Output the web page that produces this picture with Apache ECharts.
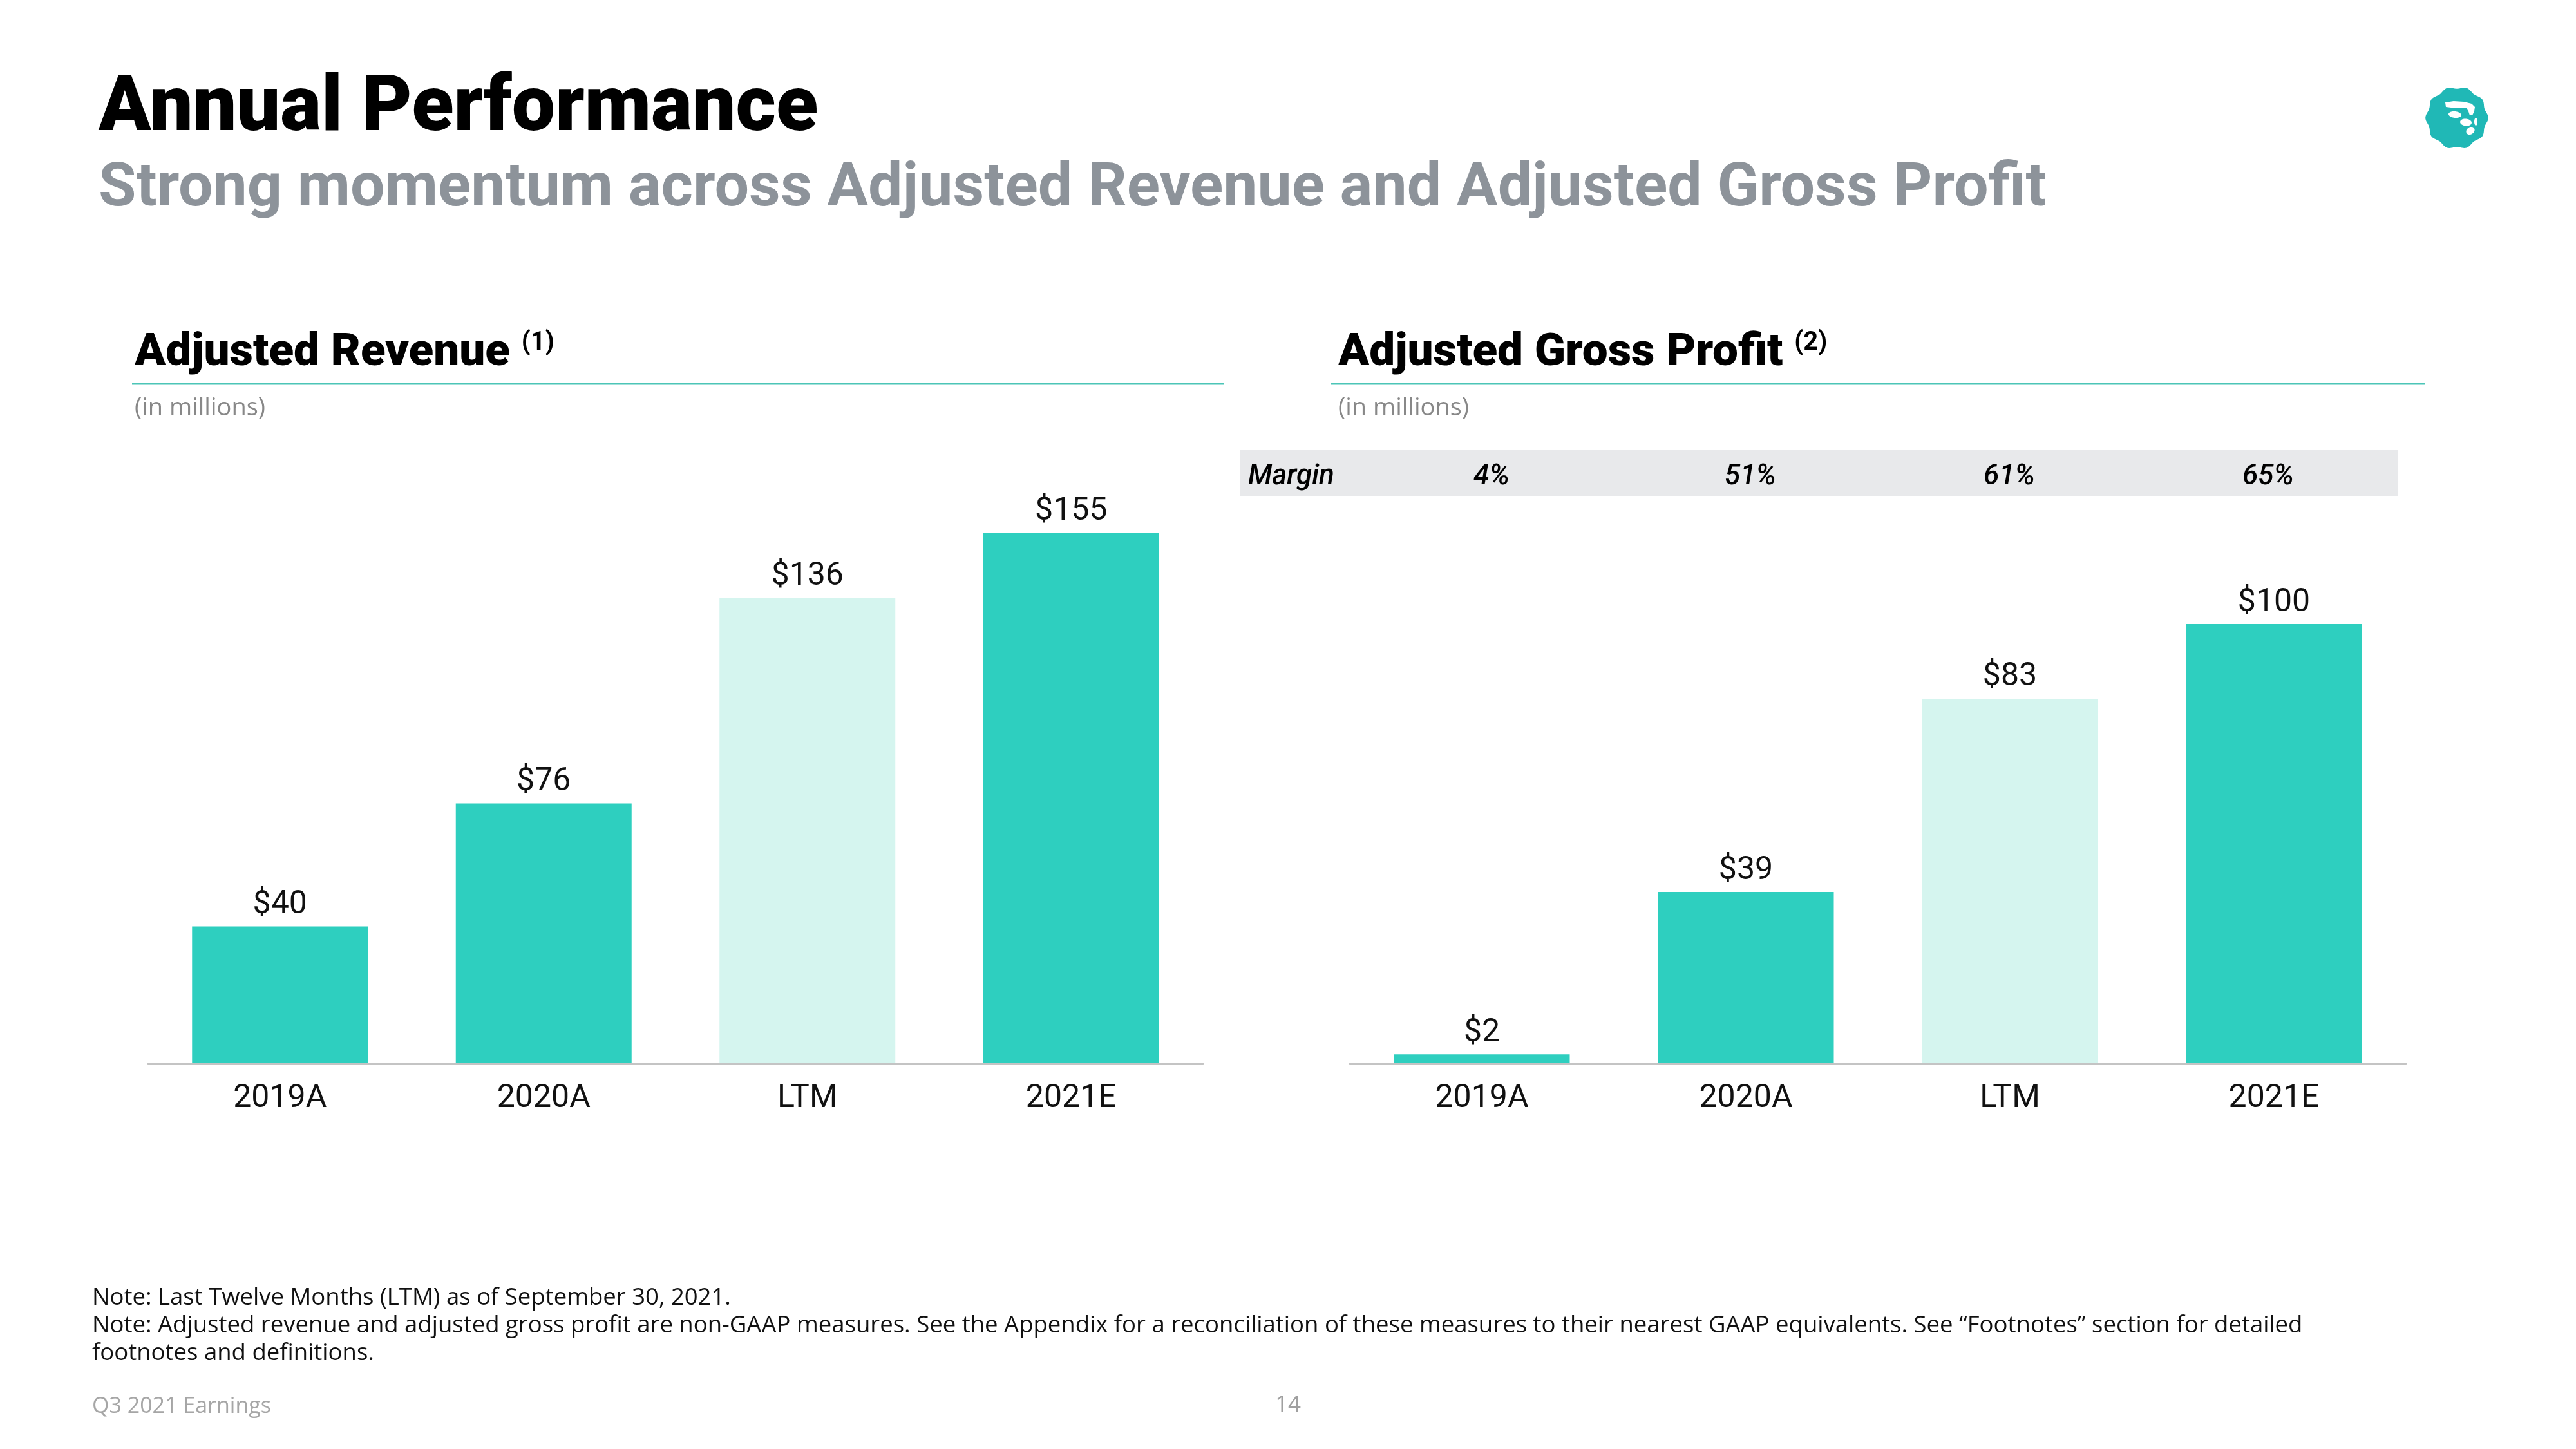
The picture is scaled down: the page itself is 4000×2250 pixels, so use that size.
<!DOCTYPE html>
<html>
<head>
<meta charset="utf-8">
<script src="https://cdn.jsdelivr.net/npm/echarts@6/dist/echarts.min.js"></script>
<style>
html,body{margin:0;padding:0;background:#fff;}
#c{width:4000px;height:2250px;}
</style>
</head>
<body>
<div id="c"></div>
<script>
const categories = ['2019A', '2020A', 'LTM', '2021E'];
const revenue = [40, 76, 136, 155];
const grossProfit = [2, 39, 83, 100];
const margins = ['4%', '51%', '61%', '65%'];
const lightCategory = 'LTM';

const TEAL = '#2ecfbf';
const LIGHT = '#d5f5ef';
const FONT = 'Roboto';
const BODY = 'Open Sans';

const chart = echarts.init(document.getElementById('c'), null, {renderer: 'canvas'});

function barSeries(data, idx) {
  return {
    type: 'bar',
    xAxisIndex: idx,
    yAxisIndex: idx,
    data: data,
    barWidth: 273,
    itemStyle: {
      color: function (p) { return p.name === lightCategory ? LIGHT : TEAL; }
    },
    label: {
      show: true,
      position: 'top',
      distance: 8,
      formatter: function (p) { return '$' + p.value; },
      fontFamily: FONT,
      fontSize: 50,
      color: '#111'
    },
    silent: true,
    animation: false
  };
}

function catAxis(idx) {
  return {
    type: 'category',
    gridIndex: idx,
    data: categories,
    axisLine: {show: true, lineStyle: {color: '#c4c4c4', width: 3}},
    axisTick: {show: false},
    axisLabel: {fontFamily: FONT, fontSize: 50, color: '#111', margin: 30}
  };
}

function valAxis(idx, max) {
  return {
    type: 'value',
    gridIndex: idx,
    min: 0,
    max: max,
    show: false,
    splitLine: {show: false}
  };
}

// logo outline (scalloped circle) as polygon points
function scallop(cx, cy, r, amp, n) {
  const pts = [];
  const steps = 180;
  for (let i = 0; i < steps; i++) {
    const t = i / steps * Math.PI * 2;
    const rr = r + amp * Math.cos(n * t);
    pts.push([cx + rr * Math.cos(t), cy + rr * Math.sin(t)]);
  }
  return pts;
}
function ellipsePts(cx, cy, rx, ry, rot) {
  const pts = [];
  const c = Math.cos(rot || 0), s = Math.sin(rot || 0);
  for (let i = 0; i < 48; i++) {
    const t = i / 48 * Math.PI * 2;
    const x = rx * Math.cos(t), y = ry * Math.sin(t);
    pts.push([cx + x * c - y * s, cy + x * s + y * c]);
  }
  return pts;
}

const headRich = {
  h: {fontFamily: FONT, fontWeight: 900, fontSize: 71, fill: '#000', lineHeight: 72},
  s: {fontFamily: FONT, fontWeight: 'bold', fontSize: 40, fill: '#000', verticalAlign: 'top', lineHeight: 42}
};

const graphics = [
  {type: 'text', x: 153, y: 172, style: {text: 'Annual Performance', fontFamily: FONT, fontWeight: 900, fontSize: 120, fill: '#000', verticalAlign: 'middle'}},
  {type: 'text', x: 153, y: 295, style: {text: 'Strong momentum across Adjusted Revenue and Adjusted Gross Profit', fontFamily: FONT, fontWeight: 'bold', fontSize: 95, fill: '#8d939a', verticalAlign: 'middle'}},
  // section headings
  {type: 'text', x: 209, y: 549, style: {text: '{h|Adjusted Revenue }{s|(1)}', verticalAlign: 'middle', rich: headRich}},
  {type: 'text', x: 2078, y: 549, style: {text: '{h|Adjusted Gross Profit }{s|(2)}', verticalAlign: 'middle', rich: headRich}},
  {type: 'line', shape: {x1: 205, y1: 596, x2: 1900, y2: 596}, style: {stroke: '#4cc5b7', lineWidth: 3}},
  {type: 'line', shape: {x1: 2067, y1: 596, x2: 3766, y2: 596}, style: {stroke: '#4cc5b7', lineWidth: 3}},
  {type: 'text', x: 209, y: 634, style: {text: '(in millions)', fontFamily: BODY, fontSize: 38, fill: '#888', verticalAlign: 'middle'}},
  {type: 'text', x: 2078, y: 634, style: {text: '(in millions)', fontFamily: BODY, fontSize: 38, fill: '#888', verticalAlign: 'middle'}},
  // margin band
  {type: 'rect', shape: {x: 1926, y: 698, width: 1798, height: 72}, style: {fill: '#e8e9eb'}, z: -1},
  {type: 'text', x: 1938, y: 741, style: {text: 'Margin', fontFamily: FONT, fontStyle: 'italic', fontWeight: 500, fontSize: 44, fill: '#000', verticalAlign: 'middle'}},
  // notes
  {type: 'text', x: 143, y: 2016, style: {text: 'Note: Last Twelve Months (LTM) as of September 30, 2021.', fontFamily: BODY, fontSize: 36.5, fill: '#111', verticalAlign: 'middle'}},
  {type: 'text', x: 143, y: 2059, style: {text: 'Note: Adjusted revenue and adjusted gross profit are non-GAAP measures. See the Appendix for a reconciliation of these measures to their nearest GAAP equivalents. See \u201cFootnotes\u201d section for detailed', fontFamily: BODY, fontSize: 36.5, fill: '#111', verticalAlign: 'middle'}},
  {type: 'text', x: 143, y: 2102, style: {text: 'footnotes and definitions.', fontFamily: BODY, fontSize: 36.5, fill: '#111', verticalAlign: 'middle'}},
  {type: 'text', x: 143, y: 2184, style: {text: 'Q3 2021 Earnings', fontFamily: BODY, fontSize: 34, fill: '#a6a6a6', verticalAlign: 'middle'}},
  {type: 'text', x: 2000, y: 2182, style: {text: '14', fontFamily: BODY, fontSize: 35, fill: '#a0a0a0', verticalAlign: 'middle', align: 'center'}},
  // logo
  {type: 'polygon', shape: {points: scallop(3815, 183, 47, 1.8, 10)}, style: {fill: '#20b8b6'}},
  {type: 'polygon', shape: {points: [[3797,159],[3810,157],[3826,158],[3838,161],[3843,166],[3842,173],[3839,179],[3835,179],[3833,173],[3830,168],[3818,167],[3806,167],[3798,166]]}, style: {fill: '#fff'}},
  {type: 'polygon', shape: {points: ellipsePts(3812, 178, 10, 5, 0.1)}, style: {fill: '#fff'}},
  {type: 'polygon', shape: {points: ellipsePts(3829, 190, 9, 5.5, 0.1)}, style: {fill: '#fff'}},
  {type: 'polygon', shape: {points: ellipsePts(3844.5, 189, 2.5, 6, 0)}, style: {fill: '#fff'}},
  {type: 'polygon', shape: {points: ellipsePts(3836, 203, 7, 5.5, -0.6)}, style: {fill: '#fff'}}
];

const option = {
  backgroundColor: '#fff',
  animation: false,
  grid: [
    {left: 230, width: 1638, top: 589, height: 1062},
    {left: 2096, width: 1640, top: 628, height: 1023},
    {left: 2115, width: 1608, top: 740, height: 1}
  ],
  xAxis: [
    catAxis(0),
    catAxis(1),
    {
      type: 'category',
      gridIndex: 2,
      data: margins,
      axisLine: {show: false},
      axisTick: {show: false},
      axisLabel: {fontFamily: FONT, fontStyle: 'italic', fontWeight: 500, fontSize: 44, color: '#000', margin: 0, verticalAlign: 'middle'}
    }
  ],
  yAxis: [valAxis(0, 200), valAxis(1, 150), valAxis(2, 1)],
  series: [barSeries(revenue, 0), barSeries(grossProfit, 1)],
  graphic: {elements: graphics}
};
chart.setOption(option);
</script>
</body>
</html>
